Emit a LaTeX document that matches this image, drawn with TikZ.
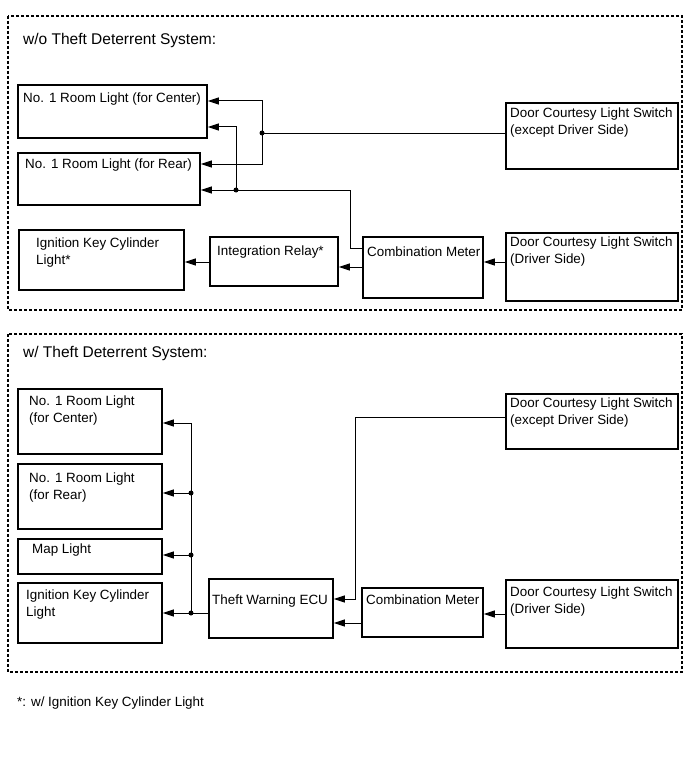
\documentclass[tikz,border=0pt]{standalone}
\usepackage{fontspec}
\setmainfont{Liberation Sans}
\usetikzlibrary{arrows.meta,calc}
\tikzset{
  x=1pt,y=-1pt,
  box/.style={draw,line width=1.8pt,inner sep=0pt,anchor=north west},
  txt/.style={inner sep=0pt,anchor=north west,align=left,font=\fontsize{13.4}{17}\selectfont},
  ttl/.style={inner sep=0pt,anchor=west,font=\fontsize{15.5}{18}\selectfont},
  frame/.style={draw,line width=1.2pt,dash pattern=on 3pt off 2pt},
  wire/.style={line width=1pt},
  arr/.style={line width=1pt,-{Triangle[length=11pt,width=7pt]}},
  dot/.style={fill=black}
}
\begin{document}
\begin{tikzpicture}
\useasboundingbox (0,0) rectangle (691,757);
% frames
\draw[frame] (8,16) rectangle (682,310);
\draw[frame] (8,334) rectangle (682,672);
\node[ttl] (t1) at (23,40) {w/o Theft Deterrent System:};
\node[ttl] (t2) at (23,353) {w/ Theft Deterrent System:};
\node[txt,anchor=west] (fn) at (17,703) {*: w/ Ignition Key Cylinder Light};

% ---------- top section ----------
\node[box,minimum width=189,minimum height=53] (rc) at (17,84) {};
\node[txt] (rct) at (23,93) {No. 1 Room Light (for Center)};
\node[box,minimum width=182,minimum height=52] (rr) at (17,152) {};
\node[txt] (rrt) at (25,159) {No. 1 Room Light (for Rear)};
\node[box,minimum width=165,minimum height=60] (ig) at (18,229) {};
\node[txt] (igt) at (36,238) {Ignition Key Cylinder\\Light*};
\node[box,minimum width=128,minimum height=49] (rl) at (209,236) {};
\node[txt] (rlt) at (217,246) {Integration Relay*};
\node[box,minimum width=120,minimum height=61] (cm) at (362,236) {};
\node[txt] (cmt) at (367,247) {Combination Meter};
\node[box,minimum width=172,minimum height=66] (dx) at (505,102) {};
\node[txt] (dxt) at (510,108) {Door Courtesy Light Switch\\(except Driver Side)};
\node[box,minimum width=172,minimum height=68] (dd) at (505,232) {};
\node[txt] (ddt) at (510,237) {Door Courtesy Light Switch\\(Driver Side)};

\coordinate (j1) at (262,133);
\coordinate (j2) at (236,190);
\coordinate (k1) at (350,190);
\coordinate (rcA) at ($(rc.north east)+(0,17)$);
\coordinate (rcB) at ($(rc.north east)+(0,43)$);
\coordinate (rrA) at ($(rr.north east)+(0,12)$);
\coordinate (cmL) at ($(cm.north west)+(0,12)$);
\coordinate (ddL) at ($(dd.north west)+(0,30)$);
\coordinate (cmO) at ($(cm.north west)+(0,31)$);
\coordinate (rlO) at ($(rl.north west)+(0,26)$);

\draw[wire] (j1 -| dx.west) -- (j1);
\draw[arr] (j1) |- (rcA);
\draw[arr] (j1) |- (rrA);
\draw[wire] (cmL) -| (k1) -- (j2);
\draw[arr] (j2) -- (j2 -| rr.east);
\draw[arr] (j2) |- (rcB);
\draw[arr] (ddL) -- (ddL -| cm.east);
\draw[arr] (cmO) -- (cmO -| rl.east);
\draw[arr] (rlO) -- (rlO -| ig.east);
\fill[dot] (j1) circle (2.5);
\fill[dot] (j2) circle (2.5);

% ---------- bottom section ----------
\node[box,minimum width=144,minimum height=65] (rc2) at (17,388) {};
\node[txt] (rc2t) at (29,396) {No. 1 Room Light\\(for Center)};
\node[box,minimum width=144,minimum height=65] (rr2) at (17,463) {};
\node[txt] (rr2t) at (29,473) {No. 1 Room Light\\(for Rear)};
\node[box,minimum width=144,minimum height=35] (mp) at (17,538) {};
\node[txt] (mpt) at (32,544) {Map Light};
\node[box,minimum width=144,minimum height=60] (ig2) at (17,582) {};
\node[txt] (ig2t) at (26,590) {Ignition Key Cylinder\\Light};
\node[box,minimum width=124,minimum height=59] (ecu) at (208,578) {};
\node[txt] (ecut) at (212,595) {Theft Warning ECU};
\node[box,minimum width=121,minimum height=49] (cm2) at (361,587) {};
\node[txt] (cm2t) at (366,595) {Combination Meter};
\node[box,minimum width=172,minimum height=55] (dx2) at (505,393) {};
\node[txt] (dx2t) at (510,398) {Door Courtesy Light Switch\\(except Driver Side)};
\node[box,minimum width=172,minimum height=68] (dd2) at (505,579) {};
\node[txt] (dd2t) at (510,587) {Door Courtesy Light Switch\\(Driver Side)};

\coordinate (b1) at (191,423);
\coordinate (b2) at (191,493);
\coordinate (b3) at (191,555);
\coordinate (b4) at (191,613);
\coordinate (k2) at (355,599);
\coordinate (dxL) at ($(dx2.north west)+(0,24)$);
\coordinate (dd2L) at ($(dd2.north west)+(0,35)$);
\coordinate (cm2L) at ($(cm2.north west)+(0,36)$);

\draw[arr] (dxL) -| (k2) -- (k2 -| ecu.east);
\draw[arr] (dd2L) -- (dd2L -| cm2.east);
\draw[arr] (cm2L) -- (cm2L -| ecu.east);
\draw[wire] (b4 -| ecu.west) -- (b4);
\draw[arr] (b4) -- (b4 -| ig2.east);
\draw[arr] (b4) -- (b1) -- (b1 -| rc2.east);
\draw[arr] (b2) -- (b2 -| rr2.east);
\draw[arr] (b3) -- (b3 -| mp.east);
\fill[dot] (b2) circle (2.5);
\fill[dot] (b3) circle (2.5);
\fill[dot] (b4) circle (2.5);
\end{tikzpicture}
\end{document}
